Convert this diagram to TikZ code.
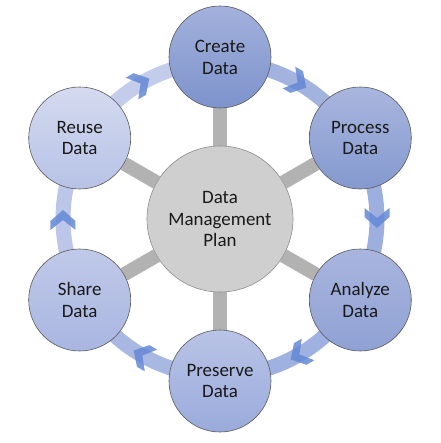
\documentclass[tikz,border=0pt]{standalone}
\usepackage{fontspec}
\setmainfont{Carlito}
\usepackage{xcolor}
\usepackage{tikz}
\usetikzlibrary{backgrounds}
\definecolor{hubgray}{HTML}{D0CFCF}
\definecolor{spokegray}{HTML}{B2B2B2}
\definecolor{chevblue}{HTML}{6488D6}
\tikzstyle{stage} = [circle, minimum size=102bp, inner sep=0pt, align=center, draw=black!65, line width=0.6pt, text=black!90, font=\fontsize{19}{22}\selectfont]
\tikzstyle{hub} = [circle, minimum size=146bp, inner sep=0pt, align=center, draw=black!45, line width=0.6pt, fill=hubgray, text=black!90, font=\fontsize{19}{22}\selectfont]
\tikzstyle{spoke} = [line width=14bp, draw=spokegray]
\tikzstyle{ring} = [line width=15bp]
\tikzstyle{chevron} = [fill=chevblue, fill opacity=0.85]
\newcommand{\cyclearrow}[1]{\fill[chevron, shift={(#1:157)}, rotate=#1-90] (9,0) -- (-2,12.5) -- (-11,12.5) -- (-1,0) -- (-11,-12.5) -- (-2,-12.5) -- cycle;}

\begin{document}
\begin{tikzpicture}[x=1bp, y=1bp]
    \useasboundingbox (-220,-224) rectangle (221,219);
    \node(dmp)[hub] at (0,0) {Data\\Management\\Plan};
    \node(create)[stage, top color={rgb,255:red,163;green,177;blue,220}, bottom color={rgb,255:red,125;green,147;blue,204}] at (90:162) {Create\\Data};
    \node(process)[stage, top color={rgb,255:red,169;green,182;blue,222}, bottom color={rgb,255:red,132;green,153;blue,207}] at (30:162) {Process\\Data};
    \node(analyze)[stage, top color={rgb,255:red,169;green,181;blue,222}, bottom color={rgb,255:red,143;green,161;blue,212}] at (-30:162) {Analyze\\Data};
    \node(preserve)[stage, top color={rgb,255:red,185;green,195;blue,230}, bottom color={rgb,255:red,154;green,171;blue,220}] at (-90:162) {Preserve\\Data};
    \node(share)[stage, top color={rgb,255:red,192;green,201;blue,233}, bottom color={rgb,255:red,169;green,182;blue,225}] at (-150:162) {Share\\Data};
    \node(reuse)[stage, top color={rgb,255:red,212;green,218;blue,239}, bottom color={rgb,255:red,183;green,194;blue,230}] at (150:162) {Reuse\\Data};
    %
    \begin{scope}[on background layer]
    \draw[ring, draw={rgb,255:red,163;green,179;blue,224}] (30:157) arc[start angle=30, end angle=90, radius=157];
    \draw[ring, draw={rgb,255:red,157;green,175;blue,223}] (-30:157) arc[start angle=-30, end angle=30, radius=157];
    \draw[ring, draw={rgb,255:red,159;green,177;blue,224}] (-90:157) arc[start angle=-90, end angle=-30, radius=157];
    \draw[ring, draw={rgb,255:red,169;green,184;blue,227}] (-150:157) arc[start angle=-150, end angle=-90, radius=157];
    \draw[ring, draw={rgb,255:red,188;green,198;blue,232}] (150:157) arc[start angle=150, end angle=210, radius=157];
    \draw[ring, draw={rgb,255:red,195;green,204;blue,234}] (90:157) arc[start angle=90, end angle=150, radius=157];
    %
    \cyclearrow{60}
    \cyclearrow{0}
    \cyclearrow{-60}
    \cyclearrow{-120}
    \cyclearrow{180}
    \cyclearrow{120}
    %
    \draw[spoke](dmp) -- (create);
    \draw[spoke](dmp) -- (process);
    \draw[spoke](dmp) -- (analyze);
    \draw[spoke](dmp) -- (preserve);
    \draw[spoke](dmp) -- (share);
    \draw[spoke](dmp) -- (reuse);
    \end{scope}
\end{tikzpicture}
\end{document}
